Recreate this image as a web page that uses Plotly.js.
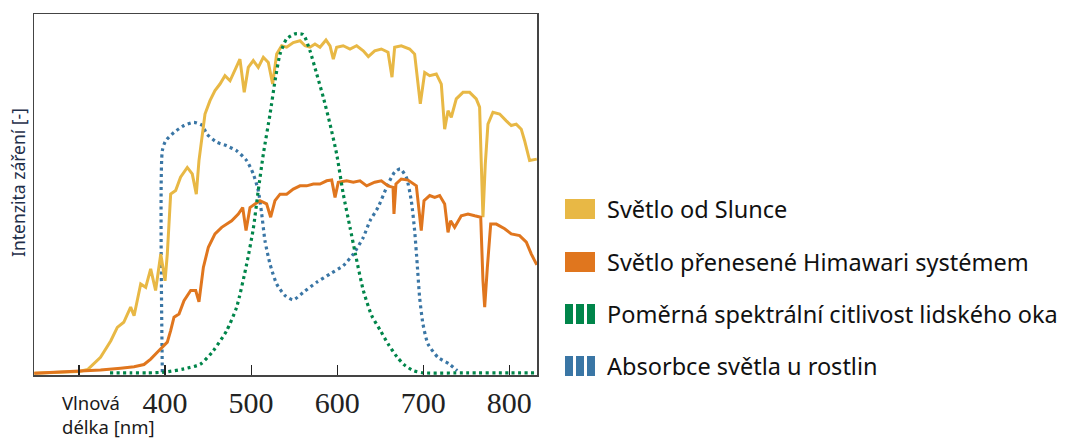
<!DOCTYPE html>
<html>
<head>
<meta charset="utf-8">
<script src="https://cdn.plot.ly/plotly-3.0.1.min.js"></script>
<style>html,body{margin:0;padding:0;background:#fff;}#chart{width:1078px;height:441px;}</style>
</head>
<body>
<div id="chart"></div>
<script>
// Series names (legend labels)
const seriesNames = [
  "Světlo od Slunce",
  "Světlo přenesené Himawari systémem",
  "Poměrná spektrální citlivost lidského oka",
  "Absorbce světla u rostlin"
];
const seriesColors = ["#E8B845", "#E0761E", "#00854A", "#3A76A5"];

// Sunlight (nm, relative intensity)
const sunX = [248,300,310,325,337,344.5,352,360,364,371.7,377.5,383.3,389,395,400,402.6,406.5,412.3,418,425.8,431.6,436.3,439.4,443.3,446.4,452.2,458,463.8,469.6,475.5,481.3,487,492,496.7,502.5,508.3,514.2,520,525,529.7,535.5,541.3,549,556.8,562.6,568.4,574.2,580,587,591.7,595.5,599.4,607,614.9,622.6,630.3,636.2,643.6,651.3,659.1,663.7,666.8,674.5,684.2,690,693.9,696.6,701.7,707.5,715.2,721,724.9,728.8,732.6,738.4,746.2,753.9,761.6,765.5,767.5,769.4,772.1,775.2,781,788.8,796.5,802.3,808.1,813.9,817.8,823.6,832];
const sunY = [0.5,1,1.5,4.9,9.5,13.2,14.6,18.8,16.4,25.2,24.3,29.4,23.4,33.5,26.1,33.5,50.1,51.1,54.8,57.5,55.7,50.1,59.4,66.8,72.3,76,78.8,80.6,82.9,81.5,84.3,87.5,78.3,85.2,87.1,85.2,88,86.6,80.6,88.9,91.2,90.8,92.1,92.6,91.2,90.8,91.7,90.8,92.8,91.2,87.5,90.8,91.2,90.3,91.2,89.8,88.2,89.8,90.3,89.4,82.5,90.8,91.2,90.3,88.9,81.5,75.1,83.8,82.9,83.4,80.6,68.1,73.2,71.4,76.5,78.3,78.3,76.5,74.2,58.4,43.7,58.4,69.5,72.8,72.3,70.4,69.1,69.5,68.1,64.9,59.4,59.8];

// Light transmitted by the Himawari system
const himX = [248,300,325,348.4,364,375.5,383.3,391,396.8,402.6,406.5,410.4,416.2,422,429.8,435.6,439.4,444.5,450.3,458,465.8,471.6,477.4,485.1,490.2,494.1,498.7,504.5,510.3,518,522.7,527.7,533.6,541.3,549,556.8,564.5,572.3,580,587.8,593.6,597.5,601.3,611,618.7,626.5,634.3,643.6,651.3,659.1,664.9,666,668.3,674.5,682.3,692,695.8,697.7,700.9,707.5,713.3,719.1,724.9,728.8,731.8,736.5,744.2,752,759.8,766.8,769.4,771.4,774.5,778.4,784.9,794.6,802.3,812,819.8,825.6,832];
const himY = [0.5,1,1.4,1.9,2.3,2.9,4.4,6.3,7.7,9.1,12.3,16,16.9,20.6,23.4,23.4,20.3,29.8,35.4,39.1,40.9,41.8,42.7,44.6,46.4,40,46.4,47.4,48.3,47.4,43.7,48.3,50.1,50.1,51.5,52.4,52.4,52.9,52.9,53.8,54,49.2,53.4,53.8,53.4,53.8,52.4,53.4,53.8,52.4,52,44.6,52.9,54.3,54,52.4,44.6,40,48.3,49.7,49.2,49.7,47.4,39.5,42.7,40.9,44.1,44.6,44.1,43.7,26.1,18.8,29.8,41.8,41.8,40.5,39.1,38.6,36.8,33.5,30.5];

// Relative spectral sensitivity of the human eye
const eyeX = [336,360,380,400,422,441,456,471.6,483.2,494.8,502.5,508.3,514.2,522,527.8,533.6,541.3,551,560.6,568.4,576.2,583.9,591.7,599.4,607.1,614.9,621,630.3,640,649.8,659.1,669.2,678,688.5,700,750,800,832];
const eyeY = [0.6,0.6,0.6,0.8,1.7,3,6.7,12.3,18.8,30.7,40.5,51.1,61.2,72.3,81.5,88.9,93.1,94.5,94.3,89.8,83.4,76.9,69.5,61.2,50.1,40.9,33.7,23.5,16.5,12.5,8.6,5.1,2.8,1.2,0.6,0.6,0.6,0.6];

// Light absorption by plants
const plantX = [396.8,396.8,400.7,410.4,422,433.6,443.3,448.4,460,471.6,483.2,494.8,502.5,508.3,512.3,516.1,522,529.7,539.4,549,560.6,576.2,591.7,607.1,618.7,630.3,638.1,647.4,659.1,666.8,673.3,680.3,686.1,690,693,695.8,699.7,705.5,717.1,730.6,739.5];
const plantY = [0.8,62.1,64.9,67.2,69.1,70,69.1,66.8,64.5,63.5,62.1,59.4,55.7,51.1,44.6,37.2,30.7,25.2,22,20.8,22.9,25.7,28,30.3,33.5,38.1,42.7,46.4,52.9,56.2,57.1,54.8,48.3,40,30.7,21.5,14.1,8.6,4.9,3,1.2];

// Axis ticks
const tickVals = [300,400,500,600,700,800];
const tickText = ["","400","500","600","700","800"];

const traces = [
  {x: plantX, y: plantY, name: seriesNames[3], type: "scatter", mode: "lines",
   line: {color: seriesColors[3], width: 3.2, dash: "3px,3.5px", shape: "spline", smoothing: 0.6}},
  {x: sunX, y: sunY, name: seriesNames[0], type: "scatter", mode: "lines",
   line: {color: seriesColors[0], width: 3}},
  {x: himX, y: himY, name: seriesNames[1], type: "scatter", mode: "lines",
   line: {color: seriesColors[1], width: 3}},
  {x: eyeX, y: eyeY, name: seriesNames[2], type: "scatter", mode: "lines",
   line: {color: seriesColors[2], width: 3.2, dash: "3px,3.5px", shape: "spline", smoothing: 0.6}}
];

// plot area in pixels: left 34, right 537, top 14, bottom 375
const L = 34, R = 537, T = 14, B = 375;
const px2paperX = p => (p - L) / (R - L);
const px2paperY = p => (B - p) / (B - T);

const shapes = [];
const annotations = [];
const rowY = [209, 262, 314, 366];
rowY.forEach((cy, i) => {
  if (i < 2) {
    shapes.push({type: "rect", xref: "paper", yref: "paper",
      x0: px2paperX(565), x1: px2paperX(595), y0: px2paperY(cy - 10), y1: px2paperY(cy + 10),
      fillcolor: seriesColors[i], line: {width: 0}});
  } else {
    [565, 576, 587].forEach(bx => {
      shapes.push({type: "rect", xref: "paper", yref: "paper",
        x0: px2paperX(bx), x1: px2paperX(bx + 8), y0: px2paperY(cy - 10), y1: px2paperY(cy + 10),
        fillcolor: seriesColors[i], line: {width: 0}});
    });
  }
  annotations.push({xref: "paper", yref: "paper", x: px2paperX(605), y: px2paperY(cy),
    xanchor: "left", yanchor: "middle", showarrow: false, text: seriesNames[i],
    font: {family: "Noto Sans", size: 23.5, color: "#111"}});
});
// x-axis title (left aligned, two lines)
annotations.push({xref: "paper", yref: "paper", x: px2paperX(60), y: px2paperY(388),
  xanchor: "left", yanchor: "top", align: "left", showarrow: false,
  text: "Vlnová<br>délka [nm]", font: {family: "Noto Sans", size: 18.5, color: "#1a1a1a"}});
// y-axis title
annotations.push({xref: "paper", yref: "paper", x: px2paperX(18), y: px2paperY(183),
  xanchor: "center", yanchor: "middle", textangle: -90, showarrow: false,
  text: "Intenzita záření [-]", font: {family: "Noto Sans", size: 17.5, color: "#1f2f4a"}});

const layout = {
  width: 1078, height: 441,
  margin: {l: L, r: 1078 - R, t: T, b: 441 - B, pad: 0},
  paper_bgcolor: "#ffffff", plot_bgcolor: "#ffffff",
  showlegend: false,
  xaxis: {range: [247.7, 832.2], tickvals: tickVals, ticktext: tickText,
    ticks: "inside", ticklen: 10, tickwidth: 1.2, tickcolor: "#222",
    showline: true, linecolor: "#444", linewidth: 1.5, mirror: true,
    showgrid: false, zeroline: false,
    tickfont: {family: "Liberation Serif", size: 30, color: "#222"}},
  yaxis: {range: [0, 100], showticklabels: false, ticks: "",
    showline: true, linecolor: "#444", linewidth: 1.5, mirror: true,
    showgrid: false, zeroline: false},
  shapes: shapes,
  annotations: annotations
};

Plotly.newPlot("chart", traces, layout, {staticPlot: true, displayModeBar: false});
</script>
</body>
</html>
